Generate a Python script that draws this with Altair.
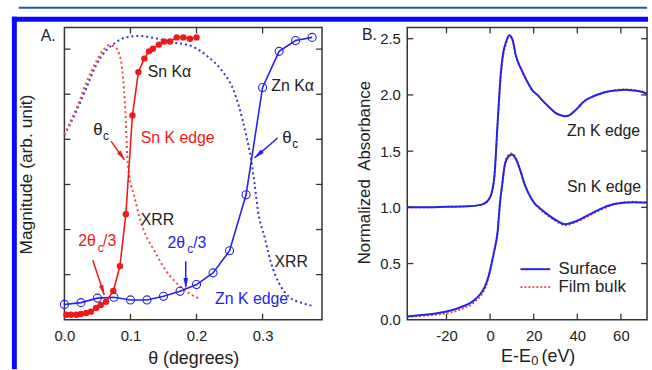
import altair as alt
import pandas as pd

FONT = "Liberation Sans, Arial, Helvetica, sans-serif"
RED = "#f01818"
RED_DOT = "#e84848"
BLUE = "#2424e8"
BLUE_DOT = "#3434d0"
INK = "#222222"
FRAME_BLUE = "#0a0aff"
TOPLINE = "#1d5c9e"

# ---------------- Panel A data ----------------
sn_ka_theta = [0.003, 0.010, 0.018, 0.025, 0.033, 0.040, 0.048, 0.055, 0.063, 0.074, 0.084, 0.093,
               0.103, 0.112, 0.121, 0.128, 0.134, 0.143, 0.151, 0.160, 0.170, 0.180, 0.190, 0.200]
sn_ka_mag = [0.11, 0.11, 0.11, 0.13, 0.15, 0.18, 0.26, 0.33, 0.40, 0.64, 1.19, 2.34,
             4.53, 5.49, 5.79, 5.95, 6.01, 6.10, 6.17, 6.17, 6.26, 6.26, 6.23, 6.26]

zn_ka_theta = [0.0, 0.025, 0.05, 0.075, 0.1, 0.125, 0.15, 0.175, 0.2, 0.225, 0.25, 0.275,
               0.3, 0.325, 0.35, 0.375]
zn_ka_mag = [0.34, 0.38, 0.48, 0.50, 0.44, 0.44, 0.52, 0.63, 0.78, 1.04, 1.53, 2.77,
             5.15, 5.95, 6.19, 6.26]

sn_edge_theta = [0.0, 0.01, 0.02, 0.033, 0.048, 0.06, 0.068, 0.077, 0.085, 0.09, 0.093, 0.095,
                 0.098, 0.101, 0.105, 0.115, 0.124, 0.133, 0.143, 0.153, 0.163, 0.173, 0.183,
                 0.193, 0.203]
sn_edge_mag = [4.10, 4.42, 4.75, 5.25, 5.72, 6.00, 6.09, 6.04, 5.79, 5.13, 4.40, 3.66,
               3.20, 2.98, 2.78, 2.20, 1.85, 1.61, 1.35, 1.10, 0.92, 0.77, 0.65, 0.55, 0.48]

zn_edge_theta = [0.0, 0.018, 0.033, 0.048, 0.063, 0.075, 0.093, 0.113, 0.138, 0.163, 0.19,
                 0.215, 0.24, 0.255, 0.265, 0.275, 0.283, 0.288, 0.293, 0.303, 0.313, 0.325,
                 0.34, 0.36, 0.375]
zn_edge_mag = [4.10, 4.62, 5.13, 5.64, 5.97, 6.12, 6.26, 6.29, 6.24, 6.15, 6.08, 5.86, 5.49,
               5.13, 4.69, 4.10, 3.52, 3.00, 2.42, 1.83, 1.25, 0.81, 0.51, 0.37, 0.31]

a_xticks = [0.1, 0.2, 0.3]
a_xlabels = [0.0, 0.1, 0.2, 0.3]
a_yticks = [1, 2, 3, 4, 5, 6]

# annotations panel A: text, x, y, color, size
a_text = ["A.", "Sn K\u03b1", "Zn K\u03b1", "\u03b8", "c", "Sn K edge", "\u03b8", "c", "XRR",
          "2\u03b8", "c", "/3", "2\u03b8", "c", "/3", "XRR", "Zn K edge"]
a_tx = [-0.036, 0.126, 0.3133, 0.0435, 0.0585, 0.1154, 0.3298, 0.3448, 0.1154,
        0.021, 0.0505, 0.0585, 0.156, 0.186, 0.195, 0.318, 0.228]
a_ty = [6.30, 5.49, 5.19, 4.20, 4.07, 4.02, 4.02, 3.89, 2.20,
        1.74, 1.60, 1.74, 1.69, 1.56, 1.69, 1.29, 0.46]
a_tcol = [INK, INK, INK, INK, INK, RED, INK, INK, INK,
          RED, RED, RED, BLUE, BLUE, BLUE, INK, BLUE]
a_tsize = [16, 16, 16, 17, 12, 16, 17, 12, 16, 16, 12, 16, 16, 12, 16, 16, 16]

# arrows panel A: start -> tip, head centre, head angle
arr_x1 = [0.0705, 0.3228, 0.043, 0.1837]
arr_y1 = [3.96, 4.03, 1.32, 1.30]
arr_x2 = [0.0904, 0.2879, 0.0604, 0.1837]
arr_y2 = [3.55, 3.59, 0.55, 0.73]
arr_hx = [0.087, 0.2935, 0.058, 0.1837]
arr_hy = [3.63, 3.66, 0.653, 0.81]
arr_ang = [144, 229, 162, 180]
arr_col = [RED, BLUE, RED, BLUE]

# ---------------- Panel B data ----------------
zn_e = [-38, -30, -20, -10, -5, -3, -1, 0, 1, 2, 3.5, 5, 5.8, 7.3, 8.8, 10.3, 11.8, 14, 17,
        19.4, 21.7, 24.5, 27.7, 30, 32.3, 34.5, 36.5, 38.4, 40.5, 42.9, 46.5, 50.5, 54, 58,
        62, 65.6, 69, 72]
zn_surface = [1.00, 1.00, 1.005, 1.01, 1.02, 1.03, 1.06, 1.09, 1.15, 1.28, 1.77, 2.21, 2.35,
              2.47, 2.53, 2.49, 2.35, 2.24, 2.12, 2.04, 2.00, 1.94, 1.88, 1.84, 1.82, 1.81,
              1.82, 1.85, 1.89, 1.94, 1.98, 2.01, 2.03, 2.04, 2.045, 2.04, 2.03, 2.01]
zn_bulk = [1.00, 1.00, 1.005, 1.01, 1.02, 1.03, 1.06, 1.09, 1.15, 1.28, 1.75, 2.18, 2.32,
           2.45, 2.52, 2.49, 2.35, 2.24, 2.12, 2.04, 2.00, 1.94, 1.88, 1.84, 1.82, 1.81,
           1.82, 1.85, 1.89, 1.94, 1.98, 2.01, 2.03, 2.045, 2.05, 2.045, 2.035, 2.02]

sn_e = [-38, -30.6, -25, -20, -15, -12.4, -9, -6.4, -4, -2.5, -1, 0, 1, 2, 3.5, 4.5, 5.8,
        6.5, 8, 10, 11.8, 14, 15.6, 17, 20.2, 23, 26.2, 30.8, 34.5, 38.4, 42, 45.9, 50,
        53.5, 57, 61, 66, 72]
sn_surface = [0.03, 0.044, 0.055, 0.073, 0.10, 0.12, 0.15, 0.19, 0.24, 0.29, 0.37, 0.44,
              0.53, 0.62, 0.79, 1.03, 1.24, 1.35, 1.44, 1.47, 1.43, 1.32, 1.22, 1.15, 1.04,
              0.99, 0.94, 0.88, 0.85, 0.87, 0.90, 0.94, 0.98, 1.01, 1.03, 1.04, 1.045, 1.04]
sn_bulk = [0.025, 0.035, 0.045, 0.058, 0.08, 0.10, 0.13, 0.17, 0.22, 0.27, 0.35, 0.43,
           0.52, 0.62, 0.79, 1.03, 1.24, 1.36, 1.46, 1.48, 1.44, 1.32, 1.21, 1.15, 1.04,
           0.98, 0.93, 0.87, 0.84, 0.86, 0.89, 0.93, 0.97, 1.00, 1.03, 1.045, 1.05, 1.045]

b_xticks = [-20, 0, 20, 40, 60]
b_yticks = [0.5, 1.0, 1.5, 2.0, 2.5]
b_ylabels = [0.0, 0.5, 1.0, 1.5, 2.0, 2.5]

b_text = ["B.", "Zn K edge", "Sn K edge", "Surface", "Film bulk", "(eV)"]
b_tx = [-58.8, 35.3, 35.3, 31.4, 31.4, 23.6]
b_ty = [2.534, 1.68, 1.18, 0.45, 0.29, -0.33]
b_tsize = [16, 16, 16, 17, 17, 18]
b_sub_text = ["0"]
b_sub_x = [18.9]
b_sub_y = [-0.37]

leg_name = ["Surface", "Film bulk"]
leg_x1 = [13.95, 13.95]
leg_x2 = [27.6, 27.6]
leg_y = [0.45, 0.29]

# ---------------- geometry ----------------
WA, HA = 260, 295
WB, HB = 242, 295
TICK = 6

xA = alt.Scale(domain=[0, 0.39], nice=False, zero=False)
yA = alt.Scale(domain=[0, 6.48], nice=False, zero=False)
xB = alt.Scale(domain=[-38, 72], nice=False, zero=False)
yB = alt.Scale(domain=[0, 2.6], nice=False, zero=False)

axA_x = alt.Axis(title="\u03b8 (degrees)", values=a_xlabels, format=".1f", labelFontSize=15,
                 labelPadding=9, labelFlush=False, ticks=False, tickSize=0, domain=False,
                 grid=False, titleFontSize=18, titleFontWeight="normal", titleY=39,
                 titleBaseline="middle", labelColor=INK, titleColor=INK, labelFont=FONT,
                 titleFont=FONT)
axA_y = alt.Axis(title="Magnitude (arb. unit)", labels=False, ticks=False, tickSize=0,
                 domain=False, grid=False, titleFontSize=17.5, titleFontWeight="normal",
                 titleX=-38, titleY=148, titleBaseline="middle", titleColor=INK,
                 titleFont=FONT)
axB_x = alt.Axis(title=None, values=b_xticks, labelExpr="'' + datum.value", labelFontSize=15,
                 labelPadding=9, labelFlush=False, ticks=False, tickSize=0, domain=False,
                 grid=False, labelColor=INK, labelFont=FONT)
axB_y = alt.Axis(title="Normalized\u00a0 Absorbance", values=b_ylabels, format=".1f",
                 labelFontSize=15, labelPadding=7, ticks=False, tickSize=0, domain=False,
                 grid=False, titleFontSize=17, titleFontWeight="normal", titleX=-43,
                 titleY=146, titleBaseline="middle", labelColor=INK, titleColor=INK,
                 labelFont=FONT, titleFont=FONT)


def XA(f):
    return alt.X(f, type="quantitative", scale=xA, axis=axA_x)


def YA(f):
    return alt.Y(f, type="quantitative", scale=yA, axis=axA_y)


def XB(f):
    return alt.X(f, type="quantitative", scale=xB, axis=axB_x)


def YB(f):
    return alt.Y(f, type="quantitative", scale=yB, axis=axB_y)


one = pd.DataFrame({"k": [0]})

# ---------------- Panel A layers ----------------
df_sn_ka = pd.DataFrame({"t": sn_ka_theta, "m": sn_ka_mag})
df_zn_ka = pd.DataFrame({"t": zn_ka_theta, "m": zn_ka_mag})
df_sn_edge = pd.DataFrame({"t": sn_edge_theta, "m": sn_edge_mag})
df_zn_edge = pd.DataFrame({"t": zn_edge_theta, "m": zn_edge_mag})

frame_top = alt.Chart(one).mark_rule(color=FRAME_BLUE, strokeWidth=5, strokeCap="square").encode(
    x=alt.value(-50.5), x2=alt.value(586.5), y=alt.value(-8.3))
frame_left = alt.Chart(one).mark_rule(color=FRAME_BLUE, strokeWidth=5, strokeCap="square").encode(
    x=alt.value(-50.5), y=alt.value(-8.3), y2=alt.value(342.5))
top_line = alt.Chart(one).mark_rule(color=TOPLINE, strokeWidth=2).encode(
    x=alt.value(-46), x2=alt.value(588), y=alt.value(-20))

zn_edge_line = alt.Chart(df_zn_edge).mark_line(
    color=BLUE_DOT, strokeWidth=2, strokeDash=[2, 3], interpolate="monotone").encode(
    x=XA("t"), y=YA("m"), order="t:Q")
sn_edge_line = alt.Chart(df_sn_edge).mark_line(
    color=RED_DOT, strokeWidth=2, strokeDash=[2, 3], interpolate="monotone").encode(
    x=XA("t"), y=YA("m"), order="t:Q")
sn_ka_line = alt.Chart(df_sn_ka).mark_line(color=RED, strokeWidth=1.6).encode(
    x=XA("t"), y=YA("m"))
sn_ka_pts = alt.Chart(df_sn_ka).mark_point(
    filled=True, color=RED, size=42, opacity=1).encode(x=XA("t"), y=YA("m"))
zn_ka_line = alt.Chart(df_zn_ka).mark_line(color=BLUE, strokeWidth=1.6).encode(
    x=XA("t"), y=YA("m"))
zn_ka_pts = alt.Chart(df_zn_ka).mark_point(
    filled=False, color=BLUE, size=66, strokeWidth=1.1, opacity=1).encode(
    x=XA("t"), y=YA("m"))

df_arr = pd.DataFrame({"x1": arr_x1, "y1": arr_y1, "x2": arr_x2, "y2": arr_y2,
                       "hx": arr_hx, "hy": arr_hy, "ang": arr_ang, "c": arr_col})
arr_shaft = alt.Chart(df_arr).mark_rule(strokeWidth=1.5).encode(
    x=XA("x1"), y=YA("y1"), x2="x2", y2="y2", color=alt.Color("c:N", scale=None))
arr_head = alt.Chart(df_arr).mark_point(
    shape="M0,-1L0.45,1L-0.45,1Z", filled=True, size=110, opacity=1).encode(
    x=XA("hx"), y=YA("hy"), angle=alt.Angle("ang:Q", scale=None),
    color=alt.Color("c:N", scale=None))

df_at = pd.DataFrame({"s": a_text, "x": a_tx, "y": a_ty, "c": a_tcol, "z": a_tsize})
a_labels = alt.Chart(df_at).mark_text(align="left", baseline="middle", font=FONT).encode(
    x=XA("x"), y=YA("y"), text="s:N", color=alt.Color("c:N", scale=None),
    size=alt.Size("z:Q", scale=None))

df_axt = pd.DataFrame({"v": a_xticks})
df_ayt = pd.DataFrame({"v": a_yticks})
a_tb = alt.Chart(df_axt).mark_rule(color="#333", strokeWidth=1.3).encode(
    x=XA("v"), y=alt.value(HA), y2=alt.value(HA - TICK))
a_tt = alt.Chart(df_axt).mark_rule(color="#333", strokeWidth=1.3).encode(
    x=XA("v"), y=alt.value(0), y2=alt.value(TICK))
a_tl = alt.Chart(df_ayt).mark_rule(color="#333", strokeWidth=1.3).encode(
    y=YA("v"), x=alt.value(0), x2=alt.value(TICK))
a_tr = alt.Chart(df_ayt).mark_rule(color="#333", strokeWidth=1.3).encode(
    y=YA("v"), x=alt.value(WA), x2=alt.value(WA - TICK))

panelA = alt.layer(
    top_line, frame_top, frame_left,
    zn_edge_line, sn_edge_line, zn_ka_line, zn_ka_pts, sn_ka_line, sn_ka_pts,
    arr_shaft, arr_head, a_labels, a_tb, a_tt, a_tl, a_tr
).properties(width=WA, height=HA)

# ---------------- Panel B layers ----------------
df_zn = pd.DataFrame({"e": zn_e, "s": zn_surface, "b": zn_bulk})
df_sn = pd.DataFrame({"e": sn_e, "s": sn_surface, "b": sn_bulk})

zn_b = alt.Chart(df_zn).mark_line(color=RED_DOT, strokeWidth=1.8, strokeDash=[2, 2],
                                  interpolate="monotone").encode(x=XB("e"), y=YB("b"))
sn_b = alt.Chart(df_sn).mark_line(color=RED_DOT, strokeWidth=1.8, strokeDash=[2, 2],
                                  interpolate="monotone").encode(x=XB("e"), y=YB("b"))
zn_s = alt.Chart(df_zn).mark_line(color=BLUE, strokeWidth=2,
                                  interpolate="monotone").encode(x=XB("e"), y=YB("s"))
sn_s = alt.Chart(df_sn).mark_line(color=BLUE, strokeWidth=2,
                                  interpolate="monotone").encode(x=XB("e"), y=YB("s"))

df_leg = pd.DataFrame({"n": leg_name, "x1": leg_x1, "x2": leg_x2, "y": leg_y})
leg_s = alt.Chart(df_leg[df_leg["n"] == "Surface"]).mark_rule(color=BLUE, strokeWidth=2).encode(
    x=XB("x1"), x2="x2", y=YB("y"))
leg_b = alt.Chart(df_leg[df_leg["n"] == "Film bulk"]).mark_rule(
    color=RED_DOT, strokeWidth=1.8, strokeDash=[2, 2]).encode(x=XB("x1"), x2="x2", y=YB("y"))

df_bt = pd.DataFrame({"s": b_text, "x": b_tx, "y": b_ty, "z": b_tsize})
b_labels = alt.Chart(df_bt).mark_text(align="left", baseline="middle", font=FONT,
                                      color=INK).encode(
    x=XB("x"), y=YB("y"), text="s:N", size=alt.Size("z:Q", scale=None))
df_xt = pd.DataFrame({"s": ["E-E"], "x": [18.7], "y": [-0.33]})
b_xtitle = alt.Chart(df_xt).mark_text(align="right", baseline="middle", font=FONT,
                                      color=INK, fontSize=18).encode(
    x=XB("x"), y=YB("y"), text="s:N")
df_sub = pd.DataFrame({"s": b_sub_text, "x": b_sub_x, "y": b_sub_y})
b_sub = alt.Chart(df_sub).mark_text(align="left", baseline="middle", font=FONT,
                                    color=INK, fontSize=13).encode(
    x=XB("x"), y=YB("y"), text="s:N")

df_bxt = pd.DataFrame({"v": b_xticks})
df_byt = pd.DataFrame({"v": b_yticks})
b_tb = alt.Chart(df_bxt).mark_rule(color="#333", strokeWidth=1.3).encode(
    x=XB("v"), y=alt.value(HB), y2=alt.value(HB - TICK))
b_tt = alt.Chart(df_bxt).mark_rule(color="#333", strokeWidth=1.3).encode(
    x=XB("v"), y=alt.value(0), y2=alt.value(TICK))
b_tl = alt.Chart(df_byt).mark_rule(color="#333", strokeWidth=1.3).encode(
    y=YB("v"), x=alt.value(0), x2=alt.value(TICK))
b_tr = alt.Chart(df_byt).mark_rule(color="#333", strokeWidth=1.3).encode(
    y=YB("v"), x=alt.value(WB), x2=alt.value(WB - TICK))

panelB = alt.layer(
    zn_b, sn_b, zn_s, sn_s, leg_s, leg_b, b_labels, b_xtitle, b_sub, b_tb, b_tt, b_tl, b_tr
).properties(width=WB, height=HB)

chart = alt.hconcat(panelA, panelB, spacing=86, bounds="flush").properties(
    padding={"left": 10, "top": 4, "right": 0, "bottom": 0},
    background="white",
).configure(font=FONT).configure_view(stroke="#333", strokeWidth=1.5)

chart.save("out.html", embed_options={"renderer": "svg", "actions": False})
